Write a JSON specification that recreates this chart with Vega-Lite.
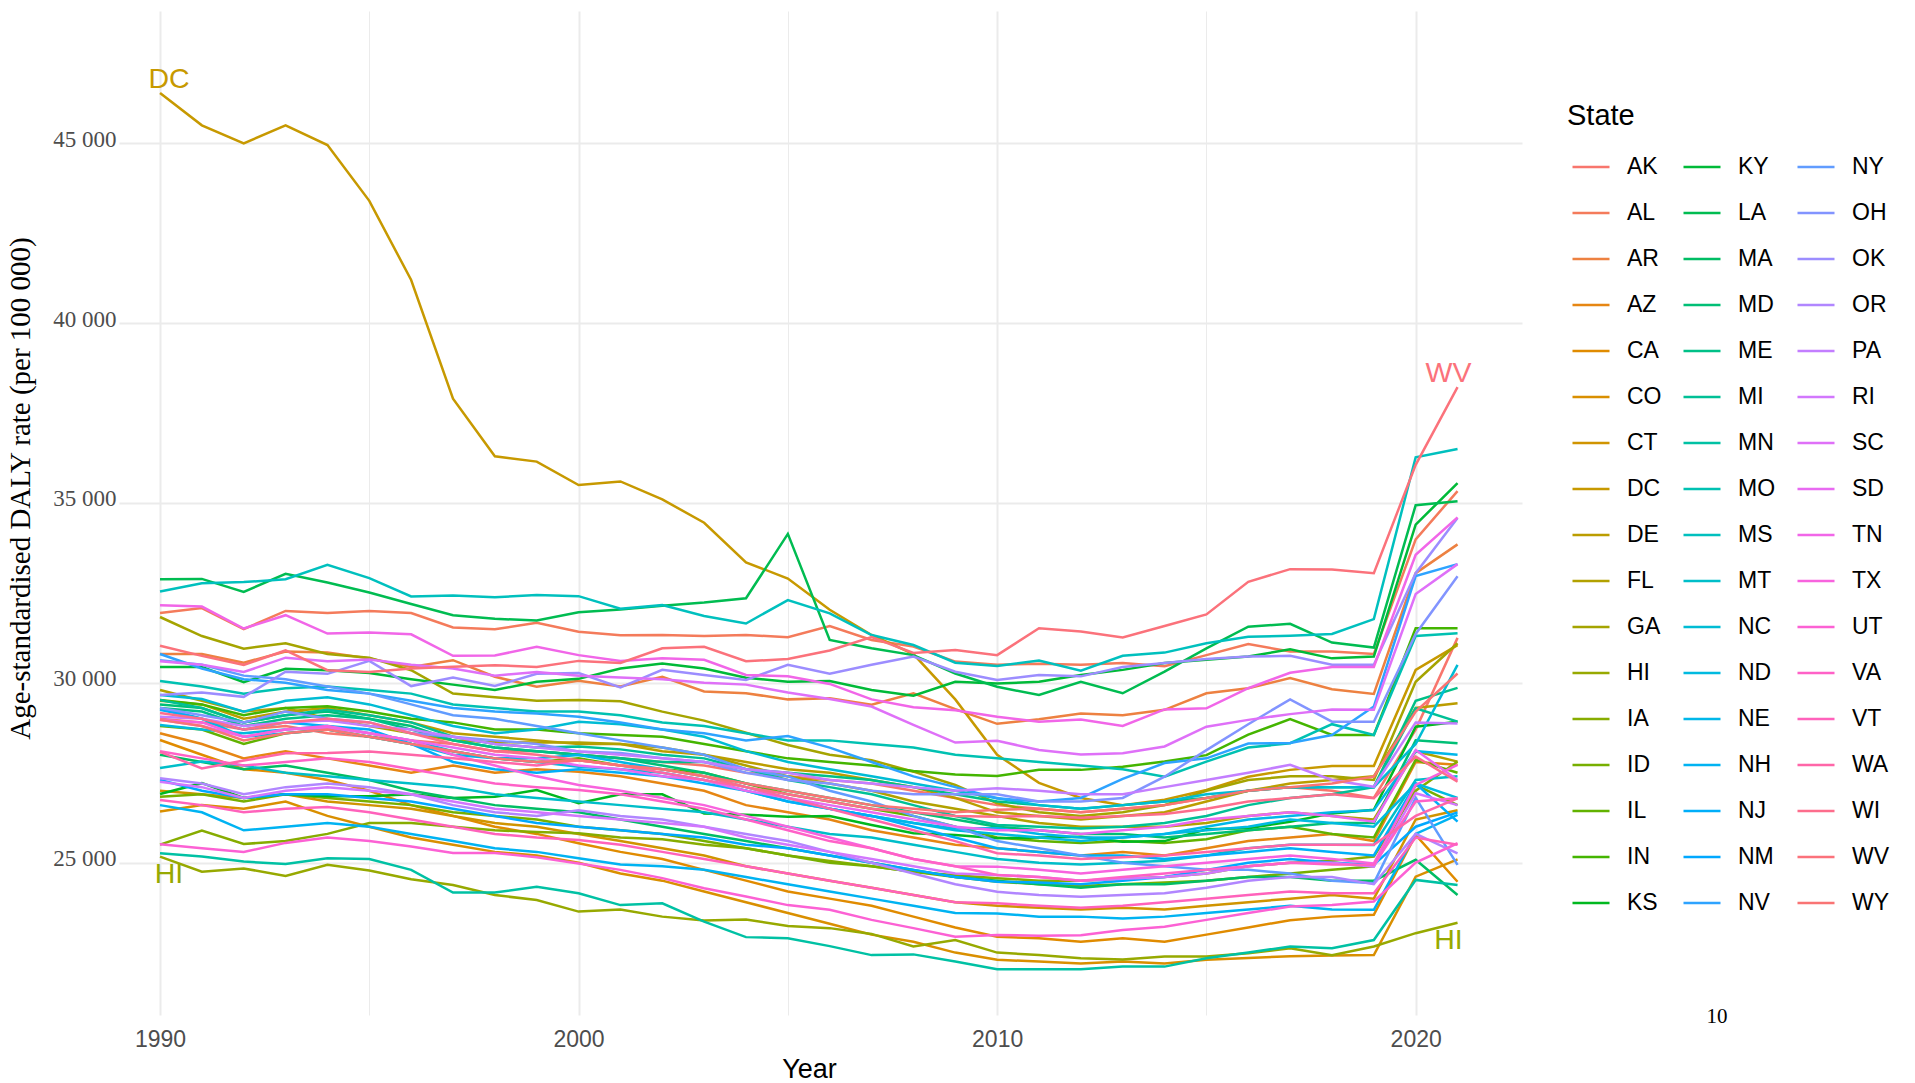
{
"$schema": "https://vega.github.io/schema/vega-lite/v6.json",
"width": 1403, "height": 1004,
"autosize": {"type": "none"},
"padding": {"left": 119, "top": 11, "right": 393, "bottom": 68},
"background": "white",
"config": {"view": {"stroke": null}, "axis": {"domain": false, "ticks": false, "gridColor": "#EBEBEB"}},
"data": {"values": [
{"s":"AK","t":1990,"v":29000},{"s":"AK","t":1991,"v":28900},{"s":"AK","t":1992,"v":28700},{"s":"AK","t":1993,"v":28800},{"s":"AK","t":1994,"v":28600},{"s":"AK","t":1995,"v":28500},{"s":"AK","t":1996,"v":28400},{"s":"AK","t":1997,"v":28300},{"s":"AK","t":1998,"v":28100},{"s":"AK","t":1999,"v":28100},{"s":"AK","t":2000,"v":28000},{"s":"AK","t":2001,"v":27900},{"s":"AK","t":2002,"v":27800},{"s":"AK","t":2003,"v":27700},{"s":"AK","t":2004,"v":27500},{"s":"AK","t":2005,"v":27400},{"s":"AK","t":2006,"v":27300},{"s":"AK","t":2007,"v":27200},{"s":"AK","t":2008,"v":27000},{"s":"AK","t":2009,"v":26800},{"s":"AK","t":2010,"v":26600},{"s":"AK","t":2011,"v":26500},{"s":"AK","t":2012,"v":26400},{"s":"AK","t":2013,"v":26500},{"s":"AK","t":2014,"v":26600},{"s":"AK","t":2015,"v":26800},{"s":"AK","t":2016,"v":27000},{"s":"AK","t":2017,"v":27100},{"s":"AK","t":2018,"v":27000},{"s":"AK","t":2019,"v":26800},{"s":"AK","t":2020,"v":28700},{"s":"AK","t":2021,"v":31250},
{"s":"AL","t":1990,"v":31940},{"s":"AL","t":1991,"v":32080},{"s":"AL","t":1992,"v":31490},{"s":"AL","t":1993,"v":32000},{"s":"AL","t":1994,"v":31940},{"s":"AL","t":1995,"v":32000},{"s":"AL","t":1996,"v":31940},{"s":"AL","t":1997,"v":31540},{"s":"AL","t":1998,"v":31490},{"s":"AL","t":1999,"v":31670},{"s":"AL","t":2000,"v":31420},{"s":"AL","t":2001,"v":31320},{"s":"AL","t":2002,"v":31330},{"s":"AL","t":2003,"v":31300},{"s":"AL","t":2004,"v":31330},{"s":"AL","t":2005,"v":31270},{"s":"AL","t":2006,"v":31580},{"s":"AL","t":2007,"v":31190},{"s":"AL","t":2008,"v":31010},{"s":"AL","t":2009,"v":30590},{"s":"AL","t":2010,"v":30500},{"s":"AL","t":2011,"v":30530},{"s":"AL","t":2012,"v":30500},{"s":"AL","t":2013,"v":30550},{"s":"AL","t":2014,"v":30460},{"s":"AL","t":2015,"v":30770},{"s":"AL","t":2016,"v":31080},{"s":"AL","t":2017,"v":30870},{"s":"AL","t":2018,"v":30870},{"s":"AL","t":2019,"v":30800},{"s":"AL","t":2020,"v":33990},{"s":"AL","t":2021,"v":35330},
{"s":"AR","t":1990,"v":30800},{"s":"AR","t":1991,"v":30800},{"s":"AR","t":1992,"v":30560},{"s":"AR","t":1993,"v":30870},{"s":"AR","t":1994,"v":30840},{"s":"AR","t":1995,"v":30680},{"s":"AR","t":1996,"v":30440},{"s":"AR","t":1997,"v":30630},{"s":"AR","t":1998,"v":30170},{"s":"AR","t":1999,"v":29890},{"s":"AR","t":2000,"v":30060},{"s":"AR","t":2001,"v":29900},{"s":"AR","t":2002,"v":30170},{"s":"AR","t":2003,"v":29760},{"s":"AR","t":2004,"v":29710},{"s":"AR","t":2005,"v":29540},{"s":"AR","t":2006,"v":29570},{"s":"AR","t":2007,"v":29390},{"s":"AR","t":2008,"v":29710},{"s":"AR","t":2009,"v":29270},{"s":"AR","t":2010,"v":28860},{"s":"AR","t":2011,"v":28990},{"s":"AR","t":2012,"v":29150},{"s":"AR","t":2013,"v":29100},{"s":"AR","t":2014,"v":29250},{"s":"AR","t":2015,"v":29710},{"s":"AR","t":2016,"v":29850},{"s":"AR","t":2017,"v":30130},{"s":"AR","t":2018,"v":29820},{"s":"AR","t":2019,"v":29690},{"s":"AR","t":2020,"v":33050},{"s":"AR","t":2021,"v":33850},
{"s":"AZ","t":1990,"v":28600},{"s":"AZ","t":1991,"v":28300},{"s":"AZ","t":1992,"v":27900},{"s":"AZ","t":1993,"v":28100},{"s":"AZ","t":1994,"v":27900},{"s":"AZ","t":1995,"v":27700},{"s":"AZ","t":1996,"v":27500},{"s":"AZ","t":1997,"v":27700},{"s":"AZ","t":1998,"v":27500},{"s":"AZ","t":1999,"v":27600},{"s":"AZ","t":2000,"v":27530},{"s":"AZ","t":2001,"v":27400},{"s":"AZ","t":2002,"v":27200},{"s":"AZ","t":2003,"v":27000},{"s":"AZ","t":2004,"v":26600},{"s":"AZ","t":2005,"v":26400},{"s":"AZ","t":2006,"v":26200},{"s":"AZ","t":2007,"v":25900},{"s":"AZ","t":2008,"v":25700},{"s":"AZ","t":2009,"v":25500},{"s":"AZ","t":2010,"v":25400},{"s":"AZ","t":2011,"v":25300},{"s":"AZ","t":2012,"v":25200},{"s":"AZ","t":2013,"v":25300},{"s":"AZ","t":2014,"v":25200},{"s":"AZ","t":2015,"v":25400},{"s":"AZ","t":2016,"v":25600},{"s":"AZ","t":2017,"v":25700},{"s":"AZ","t":2018,"v":25800},{"s":"AZ","t":2019,"v":25600},{"s":"AZ","t":2020,"v":27800},{"s":"AZ","t":2021,"v":27720},
{"s":"CA","t":1990,"v":28410},{"s":"CA","t":1991,"v":28000},{"s":"CA","t":1992,"v":27600},{"s":"CA","t":1993,"v":27500},{"s":"CA","t":1994,"v":27300},{"s":"CA","t":1995,"v":27000},{"s":"CA","t":1996,"v":26600},{"s":"CA","t":1997,"v":26300},{"s":"CA","t":1998,"v":26000},{"s":"CA","t":1999,"v":25800},{"s":"CA","t":2000,"v":25540},{"s":"CA","t":2001,"v":25300},{"s":"CA","t":2002,"v":25100},{"s":"CA","t":2003,"v":24800},{"s":"CA","t":2004,"v":24500},{"s":"CA","t":2005,"v":24200},{"s":"CA","t":2006,"v":24000},{"s":"CA","t":2007,"v":23800},{"s":"CA","t":2008,"v":23500},{"s":"CA","t":2009,"v":23200},{"s":"CA","t":2010,"v":22940},{"s":"CA","t":2011,"v":22900},{"s":"CA","t":2012,"v":22800},{"s":"CA","t":2013,"v":22900},{"s":"CA","t":2014,"v":22800},{"s":"CA","t":2015,"v":23000},{"s":"CA","t":2016,"v":23200},{"s":"CA","t":2017,"v":23400},{"s":"CA","t":2018,"v":23500},{"s":"CA","t":2019,"v":23550},{"s":"CA","t":2020,"v":25770},{"s":"CA","t":2021,"v":24470},
{"s":"CO","t":1990,"v":26420},{"s":"CO","t":1991,"v":26600},{"s":"CO","t":1992,"v":26500},{"s":"CO","t":1993,"v":26700},{"s":"CO","t":1994,"v":26300},{"s":"CO","t":1995,"v":26000},{"s":"CO","t":1996,"v":25700},{"s":"CO","t":1997,"v":25500},{"s":"CO","t":1998,"v":25300},{"s":"CO","t":1999,"v":25200},{"s":"CO","t":2000,"v":25000},{"s":"CO","t":2001,"v":24700},{"s":"CO","t":2002,"v":24500},{"s":"CO","t":2003,"v":24200},{"s":"CO","t":2004,"v":23900},{"s":"CO","t":2005,"v":23600},{"s":"CO","t":2006,"v":23300},{"s":"CO","t":2007,"v":23000},{"s":"CO","t":2008,"v":22800},{"s":"CO","t":2009,"v":22500},{"s":"CO","t":2010,"v":22300},{"s":"CO","t":2011,"v":22250},{"s":"CO","t":2012,"v":22200},{"s":"CO","t":2013,"v":22250},{"s":"CO","t":2014,"v":22200},{"s":"CO","t":2015,"v":22300},{"s":"CO","t":2016,"v":22350},{"s":"CO","t":2017,"v":22400},{"s":"CO","t":2018,"v":22420},{"s":"CO","t":2019,"v":22430},{"s":"CO","t":2020,"v":24610},{"s":"CO","t":2021,"v":25090},
{"s":"CT","t":1990,"v":27000},{"s":"CT","t":1991,"v":26900},{"s":"CT","t":1992,"v":26800},{"s":"CT","t":1993,"v":26900},{"s":"CT","t":1994,"v":26700},{"s":"CT","t":1995,"v":26600},{"s":"CT","t":1996,"v":26500},{"s":"CT","t":1997,"v":26300},{"s":"CT","t":1998,"v":26100},{"s":"CT","t":1999,"v":26000},{"s":"CT","t":2000,"v":25800},{"s":"CT","t":2001,"v":25600},{"s":"CT","t":2002,"v":25400},{"s":"CT","t":2003,"v":25200},{"s":"CT","t":2004,"v":24900},{"s":"CT","t":2005,"v":24700},{"s":"CT","t":2006,"v":24500},{"s":"CT","t":2007,"v":24300},{"s":"CT","t":2008,"v":24100},{"s":"CT","t":2009,"v":23900},{"s":"CT","t":2010,"v":23800},{"s":"CT","t":2011,"v":23750},{"s":"CT","t":2012,"v":23700},{"s":"CT","t":2013,"v":23750},{"s":"CT","t":2014,"v":23700},{"s":"CT","t":2015,"v":23800},{"s":"CT","t":2016,"v":23900},{"s":"CT","t":2017,"v":24000},{"s":"CT","t":2018,"v":24100},{"s":"CT","t":2019,"v":24000},{"s":"CT","t":2020,"v":26200},{"s":"CT","t":2021,"v":26460},
{"s":"DC","t":1990,"v":46400},{"s":"DC","t":1991,"v":45500},{"s":"DC","t":1992,"v":45000},{"s":"DC","t":1993,"v":45500},{"s":"DC","t":1994,"v":44950},{"s":"DC","t":1995,"v":43400},{"s":"DC","t":1996,"v":41200},{"s":"DC","t":1997,"v":37900},{"s":"DC","t":1998,"v":36300},{"s":"DC","t":1999,"v":36150},{"s":"DC","t":2000,"v":35500},{"s":"DC","t":2001,"v":35600},{"s":"DC","t":2002,"v":35100},{"s":"DC","t":2003,"v":34450},{"s":"DC","t":2004,"v":33350},{"s":"DC","t":2005,"v":32900},{"s":"DC","t":2006,"v":32030},{"s":"DC","t":2007,"v":31330},{"s":"DC","t":2008,"v":30800},{"s":"DC","t":2009,"v":29540},{"s":"DC","t":2010,"v":28000},{"s":"DC","t":2011,"v":27220},{"s":"DC","t":2012,"v":26800},{"s":"DC","t":2013,"v":26600},{"s":"DC","t":2014,"v":26750},{"s":"DC","t":2015,"v":27020},{"s":"DC","t":2016,"v":27390},{"s":"DC","t":2017,"v":27580},{"s":"DC","t":2018,"v":27690},{"s":"DC","t":2019,"v":27690},{"s":"DC","t":2020,"v":30360},{"s":"DC","t":2021,"v":31050},
{"s":"DE","t":1990,"v":29500},{"s":"DE","t":1991,"v":29400},{"s":"DE","t":1992,"v":29000},{"s":"DE","t":1993,"v":29200},{"s":"DE","t":1994,"v":29300},{"s":"DE","t":1995,"v":29100},{"s":"DE","t":1996,"v":28900},{"s":"DE","t":1997,"v":28600},{"s":"DE","t":1998,"v":28500},{"s":"DE","t":1999,"v":28400},{"s":"DE","t":2000,"v":28300},{"s":"DE","t":2001,"v":28300},{"s":"DE","t":2002,"v":28100},{"s":"DE","t":2003,"v":28000},{"s":"DE","t":2004,"v":27800},{"s":"DE","t":2005,"v":27600},{"s":"DE","t":2006,"v":27500},{"s":"DE","t":2007,"v":27300},{"s":"DE","t":2008,"v":27100},{"s":"DE","t":2009,"v":26800},{"s":"DE","t":2010,"v":26400},{"s":"DE","t":2011,"v":26300},{"s":"DE","t":2012,"v":26200},{"s":"DE","t":2013,"v":26300},{"s":"DE","t":2014,"v":26400},{"s":"DE","t":2015,"v":26700},{"s":"DE","t":2016,"v":27000},{"s":"DE","t":2017,"v":27200},{"s":"DE","t":2018,"v":27300},{"s":"DE","t":2019,"v":27400},{"s":"DE","t":2020,"v":29300},{"s":"DE","t":2021,"v":29430},
{"s":"FL","t":1990,"v":29800},{"s":"FL","t":1991,"v":29500},{"s":"FL","t":1992,"v":29200},{"s":"FL","t":1993,"v":29300},{"s":"FL","t":1994,"v":29000},{"s":"FL","t":1995,"v":28800},{"s":"FL","t":1996,"v":28600},{"s":"FL","t":1997,"v":28400},{"s":"FL","t":1998,"v":28350},{"s":"FL","t":1999,"v":28340},{"s":"FL","t":2000,"v":28340},{"s":"FL","t":2001,"v":28300},{"s":"FL","t":2002,"v":28200},{"s":"FL","t":2003,"v":28000},{"s":"FL","t":2004,"v":27700},{"s":"FL","t":2005,"v":27400},{"s":"FL","t":2006,"v":27200},{"s":"FL","t":2007,"v":27000},{"s":"FL","t":2008,"v":26700},{"s":"FL","t":2009,"v":26500},{"s":"FL","t":2010,"v":26300},{"s":"FL","t":2011,"v":26100},{"s":"FL","t":2012,"v":26000},{"s":"FL","t":2013,"v":26000},{"s":"FL","t":2014,"v":26000},{"s":"FL","t":2015,"v":26100},{"s":"FL","t":2016,"v":26300},{"s":"FL","t":2017,"v":26400},{"s":"FL","t":2018,"v":26300},{"s":"FL","t":2019,"v":26200},{"s":"FL","t":2020,"v":28100},{"s":"FL","t":2021,"v":27810},
{"s":"GA","t":1990,"v":31830},{"s":"GA","t":1991,"v":31300},{"s":"GA","t":1992,"v":30950},{"s":"GA","t":1993,"v":31100},{"s":"GA","t":1994,"v":30800},{"s":"GA","t":1995,"v":30700},{"s":"GA","t":1996,"v":30350},{"s":"GA","t":1997,"v":29700},{"s":"GA","t":1998,"v":29600},{"s":"GA","t":1999,"v":29500},{"s":"GA","t":2000,"v":29520},{"s":"GA","t":2001,"v":29490},{"s":"GA","t":2002,"v":29200},{"s":"GA","t":2003,"v":28950},{"s":"GA","t":2004,"v":28610},{"s":"GA","t":2005,"v":28270},{"s":"GA","t":2006,"v":28000},{"s":"GA","t":2007,"v":27850},{"s":"GA","t":2008,"v":27530},{"s":"GA","t":2009,"v":27160},{"s":"GA","t":2010,"v":26650},{"s":"GA","t":2011,"v":26400},{"s":"GA","t":2012,"v":26300},{"s":"GA","t":2013,"v":26400},{"s":"GA","t":2014,"v":26600},{"s":"GA","t":2015,"v":27000},{"s":"GA","t":2016,"v":27300},{"s":"GA","t":2017,"v":27400},{"s":"GA","t":2018,"v":27400},{"s":"GA","t":2019,"v":27300},{"s":"GA","t":2020,"v":30030},{"s":"GA","t":2021,"v":31100},
{"s":"HI","t":1990,"v":25170},{"s":"HI","t":1991,"v":24750},{"s":"HI","t":1992,"v":24840},{"s":"HI","t":1993,"v":24630},{"s":"HI","t":1994,"v":24940},{"s":"HI","t":1995,"v":24780},{"s":"HI","t":1996,"v":24540},{"s":"HI","t":1997,"v":24380},{"s":"HI","t":1998,"v":24100},{"s":"HI","t":1999,"v":23960},{"s":"HI","t":2000,"v":23640},{"s":"HI","t":2001,"v":23700},{"s":"HI","t":2002,"v":23500},{"s":"HI","t":2003,"v":23390},{"s":"HI","t":2004,"v":23420},{"s":"HI","t":2005,"v":23240},{"s":"HI","t":2006,"v":23180},{"s":"HI","t":2007,"v":23020},{"s":"HI","t":2008,"v":22670},{"s":"HI","t":2009,"v":22850},{"s":"HI","t":2010,"v":22500},{"s":"HI","t":2011,"v":22430},{"s":"HI","t":2012,"v":22340},{"s":"HI","t":2013,"v":22310},{"s":"HI","t":2014,"v":22390},{"s":"HI","t":2015,"v":22390},{"s":"HI","t":2016,"v":22480},{"s":"HI","t":2017,"v":22620},{"s":"HI","t":2018,"v":22430},{"s":"HI","t":2019,"v":22670},{"s":"HI","t":2020,"v":23040},{"s":"HI","t":2021,"v":23330},
{"s":"IA","t":1990,"v":25500},{"s":"IA","t":1991,"v":25890},{"s":"IA","t":1992,"v":25520},{"s":"IA","t":1993,"v":25600},{"s":"IA","t":1994,"v":25800},{"s":"IA","t":1995,"v":26100},{"s":"IA","t":1996,"v":26100},{"s":"IA","t":1997,"v":26000},{"s":"IA","t":1998,"v":25900},{"s":"IA","t":1999,"v":25850},{"s":"IA","t":2000,"v":25820},{"s":"IA","t":2001,"v":25700},{"s":"IA","t":2002,"v":25650},{"s":"IA","t":2003,"v":25500},{"s":"IA","t":2004,"v":25400},{"s":"IA","t":2005,"v":25200},{"s":"IA","t":2006,"v":25050},{"s":"IA","t":2007,"v":24900},{"s":"IA","t":2008,"v":24750},{"s":"IA","t":2009,"v":24650},{"s":"IA","t":2010,"v":24570},{"s":"IA","t":2011,"v":24500},{"s":"IA","t":2012,"v":24500},{"s":"IA","t":2013,"v":24550},{"s":"IA","t":2014,"v":24600},{"s":"IA","t":2015,"v":24700},{"s":"IA","t":2016,"v":24900},{"s":"IA","t":2017,"v":25000},{"s":"IA","t":2018,"v":25050},{"s":"IA","t":2019,"v":25170},{"s":"IA","t":2020,"v":27000},{"s":"IA","t":2021,"v":27810},
{"s":"ID","t":1990,"v":26830},{"s":"ID","t":1991,"v":26900},{"s":"ID","t":1992,"v":26700},{"s":"ID","t":1993,"v":26900},{"s":"ID","t":1994,"v":26800},{"s":"ID","t":1995,"v":26700},{"s":"ID","t":1996,"v":26600},{"s":"ID","t":1997,"v":26400},{"s":"ID","t":1998,"v":26300},{"s":"ID","t":1999,"v":26200},{"s":"ID","t":2000,"v":26000},{"s":"ID","t":2001,"v":25900},{"s":"ID","t":2002,"v":25800},{"s":"ID","t":2003,"v":25600},{"s":"ID","t":2004,"v":25400},{"s":"ID","t":2005,"v":25200},{"s":"ID","t":2006,"v":25000},{"s":"ID","t":2007,"v":24900},{"s":"ID","t":2008,"v":24750},{"s":"ID","t":2009,"v":24600},{"s":"ID","t":2010,"v":24470},{"s":"ID","t":2011,"v":24400},{"s":"ID","t":2012,"v":24350},{"s":"ID","t":2013,"v":24400},{"s":"ID","t":2014,"v":24450},{"s":"ID","t":2015,"v":24500},{"s":"ID","t":2016,"v":24600},{"s":"ID","t":2017,"v":24700},{"s":"ID","t":2018,"v":24800},{"s":"ID","t":2019,"v":24900},{"s":"ID","t":2020,"v":27160},{"s":"ID","t":2021,"v":26600},
{"s":"IL","t":1990,"v":28800},{"s":"IL","t":1991,"v":28700},{"s":"IL","t":1992,"v":28300},{"s":"IL","t":1993,"v":28600},{"s":"IL","t":1994,"v":28700},{"s":"IL","t":1995,"v":28500},{"s":"IL","t":1996,"v":28300},{"s":"IL","t":1997,"v":28100},{"s":"IL","t":1998,"v":27900},{"s":"IL","t":1999,"v":27800},{"s":"IL","t":2000,"v":27900},{"s":"IL","t":2001,"v":27700},{"s":"IL","t":2002,"v":27600},{"s":"IL","t":2003,"v":27500},{"s":"IL","t":2004,"v":27200},{"s":"IL","t":2005,"v":26900},{"s":"IL","t":2006,"v":26700},{"s":"IL","t":2007,"v":26500},{"s":"IL","t":2008,"v":26300},{"s":"IL","t":2009,"v":26000},{"s":"IL","t":2010,"v":25700},{"s":"IL","t":2011,"v":25600},{"s":"IL","t":2012,"v":25550},{"s":"IL","t":2013,"v":25600},{"s":"IL","t":2014,"v":25550},{"s":"IL","t":2015,"v":25650},{"s":"IL","t":2016,"v":25900},{"s":"IL","t":2017,"v":26000},{"s":"IL","t":2018,"v":25800},{"s":"IL","t":2019,"v":25700},{"s":"IL","t":2020,"v":27860},{"s":"IL","t":2021,"v":27500},
{"s":"IN","t":1990,"v":29520},{"s":"IN","t":1991,"v":29400},{"s":"IN","t":1992,"v":29100},{"s":"IN","t":1993,"v":29300},{"s":"IN","t":1994,"v":29350},{"s":"IN","t":1995,"v":29200},{"s":"IN","t":1996,"v":29000},{"s":"IN","t":1997,"v":28900},{"s":"IN","t":1998,"v":28700},{"s":"IN","t":1999,"v":28700},{"s":"IN","t":2000,"v":28600},{"s":"IN","t":2001,"v":28550},{"s":"IN","t":2002,"v":28500},{"s":"IN","t":2003,"v":28300},{"s":"IN","t":2004,"v":28100},{"s":"IN","t":2005,"v":27900},{"s":"IN","t":2006,"v":27800},{"s":"IN","t":2007,"v":27700},{"s":"IN","t":2008,"v":27550},{"s":"IN","t":2009,"v":27450},{"s":"IN","t":2010,"v":27410},{"s":"IN","t":2011,"v":27580},{"s":"IN","t":2012,"v":27580},{"s":"IN","t":2013,"v":27670},{"s":"IN","t":2014,"v":27810},{"s":"IN","t":2015,"v":27990},{"s":"IN","t":2016,"v":28560},{"s":"IN","t":2017,"v":28990},{"s":"IN","t":2018,"v":28550},{"s":"IN","t":2019,"v":28550},{"s":"IN","t":2020,"v":31520},{"s":"IN","t":2021,"v":31520},
{"s":"KS","t":1990,"v":26910},{"s":"KS","t":1991,"v":27210},{"s":"KS","t":1992,"v":26800},{"s":"KS","t":1993,"v":26900},{"s":"KS","t":1994,"v":26850},{"s":"KS","t":1995,"v":26850},{"s":"KS","t":1996,"v":26900},{"s":"KS","t":1997,"v":26800},{"s":"KS","t":1998,"v":26830},{"s":"KS","t":1999,"v":27020},{"s":"KS","t":2000,"v":26650},{"s":"KS","t":2001,"v":26900},{"s":"KS","t":2002,"v":26900},{"s":"KS","t":2003,"v":26370},{"s":"KS","t":2004,"v":26330},{"s":"KS","t":2005,"v":26280},{"s":"KS","t":2006,"v":26300},{"s":"KS","t":2007,"v":26050},{"s":"KS","t":2008,"v":25820},{"s":"KS","t":2009,"v":25770},{"s":"KS","t":2010,"v":25680},{"s":"KS","t":2011,"v":25700},{"s":"KS","t":2012,"v":25720},{"s":"KS","t":2013,"v":25580},{"s":"KS","t":2014,"v":25600},{"s":"KS","t":2015,"v":25930},{"s":"KS","t":2016,"v":25960},{"s":"KS","t":2017,"v":26140},{"s":"KS","t":2018,"v":26370},{"s":"KS","t":2019,"v":26470},{"s":"KS","t":2020,"v":28780},{"s":"KS","t":2021,"v":28920},
{"s":"KY","t":1990,"v":30440},{"s":"KY","t":1991,"v":30440},{"s":"KY","t":1992,"v":30020},{"s":"KY","t":1993,"v":30390},{"s":"KY","t":1994,"v":30350},{"s":"KY","t":1995,"v":30270},{"s":"KY","t":1996,"v":30100},{"s":"KY","t":1997,"v":29950},{"s":"KY","t":1998,"v":29800},{"s":"KY","t":1999,"v":30030},{"s":"KY","t":2000,"v":30110},{"s":"KY","t":2001,"v":30400},{"s":"KY","t":2002,"v":30540},{"s":"KY","t":2003,"v":30400},{"s":"KY","t":2004,"v":30140},{"s":"KY","t":2005,"v":30030},{"s":"KY","t":2006,"v":30050},{"s":"KY","t":2007,"v":29800},{"s":"KY","t":2008,"v":29640},{"s":"KY","t":2009,"v":30030},{"s":"KY","t":2010,"v":29980},{"s":"KY","t":2011,"v":30030},{"s":"KY","t":2012,"v":30220},{"s":"KY","t":2013,"v":30360},{"s":"KY","t":2014,"v":30550},{"s":"KY","t":2015,"v":30640},{"s":"KY","t":2016,"v":30730},{"s":"KY","t":2017,"v":30930},{"s":"KY","t":2018,"v":30680},{"s":"KY","t":2019,"v":30730},{"s":"KY","t":2020,"v":34400},{"s":"KY","t":2021,"v":35550},
{"s":"LA","t":1990,"v":32880},{"s":"LA","t":1991,"v":32890},{"s":"LA","t":1992,"v":32530},{"s":"LA","t":1993,"v":33030},{"s":"LA","t":1994,"v":32790},{"s":"LA","t":1995,"v":32510},{"s":"LA","t":1996,"v":32190},{"s":"LA","t":1997,"v":31880},{"s":"LA","t":1998,"v":31780},{"s":"LA","t":1999,"v":31730},{"s":"LA","t":2000,"v":31960},{"s":"LA","t":2001,"v":32040},{"s":"LA","t":2002,"v":32140},{"s":"LA","t":2003,"v":32230},{"s":"LA","t":2004,"v":32350},{"s":"LA","t":2005,"v":34140},{"s":"LA","t":2006,"v":31190},{"s":"LA","t":2007,"v":30960},{"s":"LA","t":2008,"v":30770},{"s":"LA","t":2009,"v":30260},{"s":"LA","t":2010,"v":29890},{"s":"LA","t":2011,"v":29660},{"s":"LA","t":2012,"v":30030},{"s":"LA","t":2013,"v":29710},{"s":"LA","t":2014,"v":30310},{"s":"LA","t":2015,"v":30960},{"s":"LA","t":2016,"v":31560},{"s":"LA","t":2017,"v":31640},{"s":"LA","t":2018,"v":31120},{"s":"LA","t":2019,"v":30980},{"s":"LA","t":2020,"v":34940},{"s":"LA","t":2021,"v":35050},
{"s":"MA","t":1990,"v":28000},{"s":"MA","t":1991,"v":27800},{"s":"MA","t":1992,"v":27600},{"s":"MA","t":1993,"v":27700},{"s":"MA","t":1994,"v":27500},{"s":"MA","t":1995,"v":27300},{"s":"MA","t":1996,"v":27000},{"s":"MA","t":1997,"v":26800},{"s":"MA","t":1998,"v":26600},{"s":"MA","t":1999,"v":26500},{"s":"MA","t":2000,"v":26400},{"s":"MA","t":2001,"v":26200},{"s":"MA","t":2002,"v":26000},{"s":"MA","t":2003,"v":25800},{"s":"MA","t":2004,"v":25600},{"s":"MA","t":2005,"v":25400},{"s":"MA","t":2006,"v":25200},{"s":"MA","t":2007,"v":25000},{"s":"MA","t":2008,"v":24800},{"s":"MA","t":2009,"v":24600},{"s":"MA","t":2010,"v":24500},{"s":"MA","t":2011,"v":24400},{"s":"MA","t":2012,"v":24300},{"s":"MA","t":2013,"v":24400},{"s":"MA","t":2014,"v":24400},{"s":"MA","t":2015,"v":24500},{"s":"MA","t":2016,"v":24600},{"s":"MA","t":2017,"v":24600},{"s":"MA","t":2018,"v":24500},{"s":"MA","t":2019,"v":24500},{"s":"MA","t":2020,"v":25080},{"s":"MA","t":2021,"v":24100},
{"s":"MD","t":1990,"v":29400},{"s":"MD","t":1991,"v":29300},{"s":"MD","t":1992,"v":28900},{"s":"MD","t":1993,"v":29100},{"s":"MD","t":1994,"v":29200},{"s":"MD","t":1995,"v":29000},{"s":"MD","t":1996,"v":28800},{"s":"MD","t":1997,"v":28400},{"s":"MD","t":1998,"v":28200},{"s":"MD","t":1999,"v":28100},{"s":"MD","t":2000,"v":28000},{"s":"MD","t":2001,"v":27900},{"s":"MD","t":2002,"v":27700},{"s":"MD","t":2003,"v":27500},{"s":"MD","t":2004,"v":27200},{"s":"MD","t":2005,"v":27000},{"s":"MD","t":2006,"v":26800},{"s":"MD","t":2007,"v":26600},{"s":"MD","t":2008,"v":26400},{"s":"MD","t":2009,"v":26200},{"s":"MD","t":2010,"v":26000},{"s":"MD","t":2011,"v":25900},{"s":"MD","t":2012,"v":25800},{"s":"MD","t":2013,"v":25800},{"s":"MD","t":2014,"v":25700},{"s":"MD","t":2015,"v":25800},{"s":"MD","t":2016,"v":25900},{"s":"MD","t":2017,"v":26000},{"s":"MD","t":2018,"v":26100},{"s":"MD","t":2019,"v":26100},{"s":"MD","t":2020,"v":28400},{"s":"MD","t":2021,"v":28320},
{"s":"ME","t":1990,"v":29300},{"s":"ME","t":1991,"v":29200},{"s":"ME","t":1992,"v":28800},{"s":"ME","t":1993,"v":29000},{"s":"ME","t":1994,"v":29100},{"s":"ME","t":1995,"v":29000},{"s":"ME","t":1996,"v":28700},{"s":"ME","t":1997,"v":28400},{"s":"ME","t":1998,"v":28200},{"s":"ME","t":1999,"v":28100},{"s":"ME","t":2000,"v":28000},{"s":"ME","t":2001,"v":27900},{"s":"ME","t":2002,"v":27800},{"s":"ME","t":2003,"v":27800},{"s":"ME","t":2004,"v":27600},{"s":"ME","t":2005,"v":27500},{"s":"ME","t":2006,"v":27400},{"s":"ME","t":2007,"v":27300},{"s":"ME","t":2008,"v":27100},{"s":"ME","t":2009,"v":26900},{"s":"ME","t":2010,"v":26700},{"s":"ME","t":2011,"v":26600},{"s":"ME","t":2012,"v":26500},{"s":"ME","t":2013,"v":26600},{"s":"ME","t":2014,"v":26700},{"s":"ME","t":2015,"v":26800},{"s":"ME","t":2016,"v":27000},{"s":"ME","t":2017,"v":27100},{"s":"ME","t":2018,"v":27100},{"s":"ME","t":2019,"v":27100},{"s":"ME","t":2020,"v":29500},{"s":"ME","t":2021,"v":29860},
{"s":"MI","t":1990,"v":29520},{"s":"MI","t":1991,"v":29300},{"s":"MI","t":1992,"v":28900},{"s":"MI","t":1993,"v":29100},{"s":"MI","t":1994,"v":29250},{"s":"MI","t":1995,"v":29100},{"s":"MI","t":1996,"v":28900},{"s":"MI","t":1997,"v":28500},{"s":"MI","t":1998,"v":28300},{"s":"MI","t":1999,"v":28200},{"s":"MI","t":2000,"v":28230},{"s":"MI","t":2001,"v":28150},{"s":"MI","t":2002,"v":28000},{"s":"MI","t":2003,"v":27900},{"s":"MI","t":2004,"v":27600},{"s":"MI","t":2005,"v":27300},{"s":"MI","t":2006,"v":27100},{"s":"MI","t":2007,"v":26900},{"s":"MI","t":2008,"v":26600},{"s":"MI","t":2009,"v":26300},{"s":"MI","t":2010,"v":26050},{"s":"MI","t":2011,"v":26000},{"s":"MI","t":2012,"v":25950},{"s":"MI","t":2013,"v":26000},{"s":"MI","t":2014,"v":26100},{"s":"MI","t":2015,"v":26300},{"s":"MI","t":2016,"v":26600},{"s":"MI","t":2017,"v":26800},{"s":"MI","t":2018,"v":26900},{"s":"MI","t":2019,"v":27100},{"s":"MI","t":2020,"v":29290},{"s":"MI","t":2021,"v":28920},
{"s":"MN","t":1990,"v":25260},{"s":"MN","t":1991,"v":25170},{"s":"MN","t":1992,"v":25030},{"s":"MN","t":1993,"v":24960},{"s":"MN","t":1994,"v":25120},{"s":"MN","t":1995,"v":25100},{"s":"MN","t":1996,"v":24800},{"s":"MN","t":1997,"v":24170},{"s":"MN","t":1998,"v":24170},{"s":"MN","t":1999,"v":24330},{"s":"MN","t":2000,"v":24150},{"s":"MN","t":2001,"v":23820},{"s":"MN","t":2002,"v":23870},{"s":"MN","t":2003,"v":23360},{"s":"MN","t":2004,"v":22930},{"s":"MN","t":2005,"v":22900},{"s":"MN","t":2006,"v":22680},{"s":"MN","t":2007,"v":22430},{"s":"MN","t":2008,"v":22450},{"s":"MN","t":2009,"v":22250},{"s":"MN","t":2010,"v":22040},{"s":"MN","t":2011,"v":22040},{"s":"MN","t":2012,"v":22040},{"s":"MN","t":2013,"v":22110},{"s":"MN","t":2014,"v":22110},{"s":"MN","t":2015,"v":22340},{"s":"MN","t":2016,"v":22500},{"s":"MN","t":2017,"v":22670},{"s":"MN","t":2018,"v":22620},{"s":"MN","t":2019,"v":22850},{"s":"MN","t":2020,"v":24520},{"s":"MN","t":2021,"v":24380},
{"s":"MO","t":1990,"v":30050},{"s":"MO","t":1991,"v":29900},{"s":"MO","t":1992,"v":29700},{"s":"MO","t":1993,"v":29850},{"s":"MO","t":1994,"v":29900},{"s":"MO","t":1995,"v":29800},{"s":"MO","t":1996,"v":29700},{"s":"MO","t":1997,"v":29400},{"s":"MO","t":1998,"v":29300},{"s":"MO","t":1999,"v":29200},{"s":"MO","t":2000,"v":29200},{"s":"MO","t":2001,"v":29100},{"s":"MO","t":2002,"v":28900},{"s":"MO","t":2003,"v":28800},{"s":"MO","t":2004,"v":28600},{"s":"MO","t":2005,"v":28400},{"s":"MO","t":2006,"v":28400},{"s":"MO","t":2007,"v":28300},{"s":"MO","t":2008,"v":28200},{"s":"MO","t":2009,"v":28000},{"s":"MO","t":2010,"v":27900},{"s":"MO","t":2011,"v":27800},{"s":"MO","t":2012,"v":27700},{"s":"MO","t":2013,"v":27600},{"s":"MO","t":2014,"v":27390},{"s":"MO","t":2015,"v":27810},{"s":"MO","t":2016,"v":28200},{"s":"MO","t":2017,"v":28320},{"s":"MO","t":2018,"v":28850},{"s":"MO","t":2019,"v":28550},{"s":"MO","t":2020,"v":31300},{"s":"MO","t":2021,"v":31380},
{"s":"MS","t":1990,"v":32540},{"s":"MS","t":1991,"v":32770},{"s":"MS","t":1992,"v":32800},{"s":"MS","t":1993,"v":32880},{"s":"MS","t":1994,"v":33280},{"s":"MS","t":1995,"v":32910},{"s":"MS","t":1996,"v":32400},{"s":"MS","t":1997,"v":32430},{"s":"MS","t":1998,"v":32380},{"s":"MS","t":1999,"v":32440},{"s":"MS","t":2000,"v":32410},{"s":"MS","t":2001,"v":32060},{"s":"MS","t":2002,"v":32160},{"s":"MS","t":2003,"v":31860},{"s":"MS","t":2004,"v":31650},{"s":"MS","t":2005,"v":32300},{"s":"MS","t":2006,"v":31930},{"s":"MS","t":2007,"v":31330},{"s":"MS","t":2008,"v":31050},{"s":"MS","t":2009,"v":30560},{"s":"MS","t":2010,"v":30470},{"s":"MS","t":2011,"v":30620},{"s":"MS","t":2012,"v":30340},{"s":"MS","t":2013,"v":30750},{"s":"MS","t":2014,"v":30840},{"s":"MS","t":2015,"v":31100},{"s":"MS","t":2016,"v":31280},{"s":"MS","t":2017,"v":31310},{"s":"MS","t":2018,"v":31360},{"s":"MS","t":2019,"v":31770},{"s":"MS","t":2020,"v":36270},{"s":"MS","t":2021,"v":36500},
{"s":"MT","t":1990,"v":27630},{"s":"MT","t":1991,"v":27810},{"s":"MT","t":1992,"v":27700},{"s":"MT","t":1993,"v":27500},{"s":"MT","t":1994,"v":27400},{"s":"MT","t":1995,"v":27300},{"s":"MT","t":1996,"v":27200},{"s":"MT","t":1997,"v":27100},{"s":"MT","t":1998,"v":26900},{"s":"MT","t":1999,"v":26800},{"s":"MT","t":2000,"v":26700},{"s":"MT","t":2001,"v":26600},{"s":"MT","t":2002,"v":26500},{"s":"MT","t":2003,"v":26400},{"s":"MT","t":2004,"v":26200},{"s":"MT","t":2005,"v":26000},{"s":"MT","t":2006,"v":25800},{"s":"MT","t":2007,"v":25700},{"s":"MT","t":2008,"v":25500},{"s":"MT","t":2009,"v":25300},{"s":"MT","t":2010,"v":25100},{"s":"MT","t":2011,"v":25000},{"s":"MT","t":2012,"v":24950},{"s":"MT","t":2013,"v":25000},{"s":"MT","t":2014,"v":25050},{"s":"MT","t":2015,"v":25200},{"s":"MT","t":2016,"v":25400},{"s":"MT","t":2017,"v":25500},{"s":"MT","t":2018,"v":25500},{"s":"MT","t":2019,"v":25490},{"s":"MT","t":2020,"v":27300},{"s":"MT","t":2021,"v":27400},
{"s":"NC","t":1990,"v":29660},{"s":"NC","t":1991,"v":29550},{"s":"NC","t":1992,"v":29200},{"s":"NC","t":1993,"v":29500},{"s":"NC","t":1994,"v":29600},{"s":"NC","t":1995,"v":29400},{"s":"NC","t":1996,"v":29100},{"s":"NC","t":1997,"v":28800},{"s":"NC","t":1998,"v":28600},{"s":"NC","t":1999,"v":28700},{"s":"NC","t":2000,"v":28920},{"s":"NC","t":2001,"v":28850},{"s":"NC","t":2002,"v":28700},{"s":"NC","t":2003,"v":28500},{"s":"NC","t":2004,"v":28100},{"s":"NC","t":2005,"v":27800},{"s":"NC","t":2006,"v":27600},{"s":"NC","t":2007,"v":27400},{"s":"NC","t":2008,"v":27200},{"s":"NC","t":2009,"v":27000},{"s":"NC","t":2010,"v":26790},{"s":"NC","t":2011,"v":26600},{"s":"NC","t":2012,"v":26500},{"s":"NC","t":2013,"v":26600},{"s":"NC","t":2014,"v":26700},{"s":"NC","t":2015,"v":26900},{"s":"NC","t":2016,"v":27000},{"s":"NC","t":2017,"v":27100},{"s":"NC","t":2018,"v":27100},{"s":"NC","t":2019,"v":27100},{"s":"NC","t":2020,"v":28300},{"s":"NC","t":2021,"v":30500},
{"s":"ND","t":1990,"v":28830},{"s":"ND","t":1991,"v":28700},{"s":"ND","t":1992,"v":28600},{"s":"ND","t":1993,"v":28700},{"s":"ND","t":1994,"v":28800},{"s":"ND","t":1995,"v":28600},{"s":"ND","t":1996,"v":28400},{"s":"ND","t":1997,"v":28100},{"s":"ND","t":1998,"v":27900},{"s":"ND","t":1999,"v":27800},{"s":"ND","t":2000,"v":27670},{"s":"ND","t":2001,"v":27600},{"s":"ND","t":2002,"v":27500},{"s":"ND","t":2003,"v":27300},{"s":"ND","t":2004,"v":27000},{"s":"ND","t":2005,"v":26700},{"s":"ND","t":2006,"v":26500},{"s":"ND","t":2007,"v":26300},{"s":"ND","t":2008,"v":26100},{"s":"ND","t":2009,"v":25900},{"s":"ND","t":2010,"v":25800},{"s":"ND","t":2011,"v":25700},{"s":"ND","t":2012,"v":25600},{"s":"ND","t":2013,"v":25700},{"s":"ND","t":2014,"v":25800},{"s":"ND","t":2015,"v":25900},{"s":"ND","t":2016,"v":26000},{"s":"ND","t":2017,"v":26200},{"s":"ND","t":2018,"v":26100},{"s":"ND","t":2019,"v":26000},{"s":"ND","t":2020,"v":27200},{"s":"ND","t":2021,"v":26800},
{"s":"NE","t":1990,"v":29300},{"s":"NE","t":1991,"v":29000},{"s":"NE","t":1992,"v":28500},{"s":"NE","t":1993,"v":28600},{"s":"NE","t":1994,"v":28700},{"s":"NE","t":1995,"v":28500},{"s":"NE","t":1996,"v":28300},{"s":"NE","t":1997,"v":28000},{"s":"NE","t":1998,"v":27900},{"s":"NE","t":1999,"v":27900},{"s":"NE","t":2000,"v":27990},{"s":"NE","t":2001,"v":27800},{"s":"NE","t":2002,"v":27600},{"s":"NE","t":2003,"v":27400},{"s":"NE","t":2004,"v":27100},{"s":"NE","t":2005,"v":26800},{"s":"NE","t":2006,"v":26500},{"s":"NE","t":2007,"v":26300},{"s":"NE","t":2008,"v":26100},{"s":"NE","t":2009,"v":25950},{"s":"NE","t":2010,"v":25960},{"s":"NE","t":2011,"v":25800},{"s":"NE","t":2012,"v":25700},{"s":"NE","t":2013,"v":25700},{"s":"NE","t":2014,"v":25800},{"s":"NE","t":2015,"v":26000},{"s":"NE","t":2016,"v":26200},{"s":"NE","t":2017,"v":26300},{"s":"NE","t":2018,"v":26400},{"s":"NE","t":2019,"v":26460},{"s":"NE","t":2020,"v":28100},{"s":"NE","t":2021,"v":28000},
{"s":"NH","t":1990,"v":26600},{"s":"NH","t":1991,"v":26400},{"s":"NH","t":1992,"v":25900},{"s":"NH","t":1993,"v":26000},{"s":"NH","t":1994,"v":26100},{"s":"NH","t":1995,"v":26000},{"s":"NH","t":1996,"v":25800},{"s":"NH","t":1997,"v":25600},{"s":"NH","t":1998,"v":25400},{"s":"NH","t":1999,"v":25300},{"s":"NH","t":2000,"v":25120},{"s":"NH","t":2001,"v":24950},{"s":"NH","t":2002,"v":24900},{"s":"NH","t":2003,"v":24800},{"s":"NH","t":2004,"v":24600},{"s":"NH","t":2005,"v":24400},{"s":"NH","t":2006,"v":24200},{"s":"NH","t":2007,"v":24000},{"s":"NH","t":2008,"v":23800},{"s":"NH","t":2009,"v":23600},{"s":"NH","t":2010,"v":23590},{"s":"NH","t":2011,"v":23500},{"s":"NH","t":2012,"v":23500},{"s":"NH","t":2013,"v":23450},{"s":"NH","t":2014,"v":23500},{"s":"NH","t":2015,"v":23600},{"s":"NH","t":2016,"v":23700},{"s":"NH","t":2017,"v":23800},{"s":"NH","t":2018,"v":23700},{"s":"NH","t":2019,"v":23690},{"s":"NH","t":2020,"v":25800},{"s":"NH","t":2021,"v":26330},
{"s":"NJ","t":1990,"v":29250},{"s":"NJ","t":1991,"v":29000},{"s":"NJ","t":1992,"v":28700},{"s":"NJ","t":1993,"v":28900},{"s":"NJ","t":1994,"v":28800},{"s":"NJ","t":1995,"v":28700},{"s":"NJ","t":1996,"v":28300},{"s":"NJ","t":1997,"v":27800},{"s":"NJ","t":1998,"v":27600},{"s":"NJ","t":1999,"v":27500},{"s":"NJ","t":2000,"v":27600},{"s":"NJ","t":2001,"v":27500},{"s":"NJ","t":2002,"v":27400},{"s":"NJ","t":2003,"v":27200},{"s":"NJ","t":2004,"v":27000},{"s":"NJ","t":2005,"v":26700},{"s":"NJ","t":2006,"v":26500},{"s":"NJ","t":2007,"v":26300},{"s":"NJ","t":2008,"v":26000},{"s":"NJ","t":2009,"v":25700},{"s":"NJ","t":2010,"v":25400},{"s":"NJ","t":2011,"v":25300},{"s":"NJ","t":2012,"v":25200},{"s":"NJ","t":2013,"v":25200},{"s":"NJ","t":2014,"v":25100},{"s":"NJ","t":2015,"v":25200},{"s":"NJ","t":2016,"v":25300},{"s":"NJ","t":2017,"v":25400},{"s":"NJ","t":2018,"v":25300},{"s":"NJ","t":2019,"v":25200},{"s":"NJ","t":2020,"v":27200},{"s":"NJ","t":2021,"v":26140},
{"s":"NM","t":1990,"v":27300},{"s":"NM","t":1991,"v":27000},{"s":"NM","t":1992,"v":26800},{"s":"NM","t":1993,"v":26900},{"s":"NM","t":1994,"v":26900},{"s":"NM","t":1995,"v":26800},{"s":"NM","t":1996,"v":26700},{"s":"NM","t":1997,"v":26500},{"s":"NM","t":1998,"v":26300},{"s":"NM","t":1999,"v":26100},{"s":"NM","t":2000,"v":26000},{"s":"NM","t":2001,"v":25900},{"s":"NM","t":2002,"v":25800},{"s":"NM","t":2003,"v":25700},{"s":"NM","t":2004,"v":25500},{"s":"NM","t":2005,"v":25400},{"s":"NM","t":2006,"v":25200},{"s":"NM","t":2007,"v":25000},{"s":"NM","t":2008,"v":24800},{"s":"NM","t":2009,"v":24600},{"s":"NM","t":2010,"v":24470},{"s":"NM","t":2011,"v":24450},{"s":"NM","t":2012,"v":24400},{"s":"NM","t":2013,"v":24500},{"s":"NM","t":2014,"v":24600},{"s":"NM","t":2015,"v":24800},{"s":"NM","t":2016,"v":25000},{"s":"NM","t":2017,"v":25100},{"s":"NM","t":2018,"v":25000},{"s":"NM","t":2019,"v":24940},{"s":"NM","t":2020,"v":26000},{"s":"NM","t":2021,"v":26400},
{"s":"NV","t":1990,"v":30800},{"s":"NV","t":1991,"v":30400},{"s":"NV","t":1992,"v":30100},{"s":"NV","t":1993,"v":30000},{"s":"NV","t":1994,"v":29800},{"s":"NV","t":1995,"v":29700},{"s":"NV","t":1996,"v":29500},{"s":"NV","t":1997,"v":29300},{"s":"NV","t":1998,"v":29200},{"s":"NV","t":1999,"v":29150},{"s":"NV","t":2000,"v":29060},{"s":"NV","t":2001,"v":28900},{"s":"NV","t":2002,"v":28700},{"s":"NV","t":2003,"v":28600},{"s":"NV","t":2004,"v":28400},{"s":"NV","t":2005,"v":28520},{"s":"NV","t":2006,"v":28200},{"s":"NV","t":2007,"v":27800},{"s":"NV","t":2008,"v":27400},{"s":"NV","t":2009,"v":27100},{"s":"NV","t":2010,"v":26790},{"s":"NV","t":2011,"v":26700},{"s":"NV","t":2012,"v":26800},{"s":"NV","t":2013,"v":27330},{"s":"NV","t":2014,"v":27770},{"s":"NV","t":2015,"v":27900},{"s":"NV","t":2016,"v":28310},{"s":"NV","t":2017,"v":28330},{"s":"NV","t":2018,"v":28550},{"s":"NV","t":2019,"v":29340},{"s":"NV","t":2020,"v":32970},{"s":"NV","t":2021,"v":33300},
{"s":"NY","t":1990,"v":30630},{"s":"NY","t":1991,"v":30500},{"s":"NY","t":1992,"v":30200},{"s":"NY","t":1993,"v":30100},{"s":"NY","t":1994,"v":29900},{"s":"NY","t":1995,"v":29700},{"s":"NY","t":1996,"v":29400},{"s":"NY","t":1997,"v":29100},{"s":"NY","t":1998,"v":29000},{"s":"NY","t":1999,"v":28800},{"s":"NY","t":2000,"v":28600},{"s":"NY","t":2001,"v":28400},{"s":"NY","t":2002,"v":28200},{"s":"NY","t":2003,"v":28000},{"s":"NY","t":2004,"v":27600},{"s":"NY","t":2005,"v":27400},{"s":"NY","t":2006,"v":27000},{"s":"NY","t":2007,"v":26700},{"s":"NY","t":2008,"v":26300},{"s":"NY","t":2009,"v":26000},{"s":"NY","t":2010,"v":25600},{"s":"NY","t":2011,"v":25400},{"s":"NY","t":2012,"v":25200},{"s":"NY","t":2013,"v":25000},{"s":"NY","t":2014,"v":24900},{"s":"NY","t":2015,"v":24800},{"s":"NY","t":2016,"v":24800},{"s":"NY","t":2017,"v":24700},{"s":"NY","t":2018,"v":24500},{"s":"NY","t":2019,"v":24430},{"s":"NY","t":2020,"v":26800},{"s":"NY","t":2021,"v":24940},
{"s":"OH","t":1990,"v":29300},{"s":"OH","t":1991,"v":29100},{"s":"OH","t":1992,"v":28900},{"s":"OH","t":1993,"v":29200},{"s":"OH","t":1994,"v":29000},{"s":"OH","t":1995,"v":28900},{"s":"OH","t":1996,"v":28600},{"s":"OH","t":1997,"v":28500},{"s":"OH","t":1998,"v":28400},{"s":"OH","t":1999,"v":28300},{"s":"OH","t":2000,"v":28090},{"s":"OH","t":2001,"v":28050},{"s":"OH","t":2002,"v":27900},{"s":"OH","t":2003,"v":27800},{"s":"OH","t":2004,"v":27500},{"s":"OH","t":2005,"v":27300},{"s":"OH","t":2006,"v":27200},{"s":"OH","t":2007,"v":27000},{"s":"OH","t":2008,"v":26900},{"s":"OH","t":2009,"v":26900},{"s":"OH","t":2010,"v":26900},{"s":"OH","t":2011,"v":26700},{"s":"OH","t":2012,"v":26700},{"s":"OH","t":2013,"v":26800},{"s":"OH","t":2014,"v":27390},{"s":"OH","t":2015,"v":28130},{"s":"OH","t":2016,"v":28850},{"s":"OH","t":2017,"v":29540},{"s":"OH","t":2018,"v":28920},{"s":"OH","t":2019,"v":28920},{"s":"OH","t":2020,"v":31360},{"s":"OH","t":2021,"v":32960},
{"s":"OK","t":1990,"v":29660},{"s":"OK","t":1991,"v":29730},{"s":"OK","t":1992,"v":29610},{"s":"OK","t":1993,"v":30310},{"s":"OK","t":1994,"v":30250},{"s":"OK","t":1995,"v":30610},{"s":"OK","t":1996,"v":29910},{"s":"OK","t":1997,"v":30150},{"s":"OK","t":1998,"v":29910},{"s":"OK","t":1999,"v":30250},{"s":"OK","t":2000,"v":30270},{"s":"OK","t":2001,"v":29870},{"s":"OK","t":2002,"v":30360},{"s":"OK","t":2003,"v":30220},{"s":"OK","t":2004,"v":30080},{"s":"OK","t":2005,"v":30500},{"s":"OK","t":2006,"v":30250},{"s":"OK","t":2007,"v":30500},{"s":"OK","t":2008,"v":30730},{"s":"OK","t":2009,"v":30310},{"s":"OK","t":2010,"v":30080},{"s":"OK","t":2011,"v":30220},{"s":"OK","t":2012,"v":30180},{"s":"OK","t":2013,"v":30440},{"s":"OK","t":2014,"v":30550},{"s":"OK","t":2015,"v":30660},{"s":"OK","t":2016,"v":30730},{"s":"OK","t":2017,"v":30750},{"s":"OK","t":2018,"v":30500},{"s":"OK","t":2019,"v":30500},{"s":"OK","t":2020,"v":33050},{"s":"OK","t":2021,"v":34580},
{"s":"OR","t":1990,"v":27350},{"s":"OR","t":1991,"v":27200},{"s":"OR","t":1992,"v":26900},{"s":"OR","t":1993,"v":27100},{"s":"OR","t":1994,"v":27200},{"s":"OR","t":1995,"v":27100},{"s":"OR","t":1996,"v":26900},{"s":"OR","t":1997,"v":26600},{"s":"OR","t":1998,"v":26400},{"s":"OR","t":1999,"v":26300},{"s":"OR","t":2000,"v":26460},{"s":"OR","t":2001,"v":26300},{"s":"OR","t":2002,"v":26200},{"s":"OR","t":2003,"v":26000},{"s":"OR","t":2004,"v":25800},{"s":"OR","t":2005,"v":25600},{"s":"OR","t":2006,"v":25300},{"s":"OR","t":2007,"v":25000},{"s":"OR","t":2008,"v":24700},{"s":"OR","t":2009,"v":24400},{"s":"OR","t":2010,"v":24190},{"s":"OR","t":2011,"v":24100},{"s":"OR","t":2012,"v":24050},{"s":"OR","t":2013,"v":24100},{"s":"OR","t":2014,"v":24150},{"s":"OR","t":2015,"v":24300},{"s":"OR","t":2016,"v":24500},{"s":"OR","t":2017,"v":24600},{"s":"OR","t":2018,"v":24600},{"s":"OR","t":2019,"v":24400},{"s":"OR","t":2020,"v":25800},{"s":"OR","t":2021,"v":25260},
{"s":"PA","t":1990,"v":29060},{"s":"PA","t":1991,"v":29000},{"s":"PA","t":1992,"v":28800},{"s":"PA","t":1993,"v":28900},{"s":"PA","t":1994,"v":28950},{"s":"PA","t":1995,"v":28800},{"s":"PA","t":1996,"v":28700},{"s":"PA","t":1997,"v":28500},{"s":"PA","t":1998,"v":28300},{"s":"PA","t":1999,"v":28200},{"s":"PA","t":2000,"v":28090},{"s":"PA","t":2001,"v":28000},{"s":"PA","t":2002,"v":27900},{"s":"PA","t":2003,"v":27800},{"s":"PA","t":2004,"v":27600},{"s":"PA","t":2005,"v":27500},{"s":"PA","t":2006,"v":27300},{"s":"PA","t":2007,"v":27200},{"s":"PA","t":2008,"v":27100},{"s":"PA","t":2009,"v":27000},{"s":"PA","t":2010,"v":27070},{"s":"PA","t":2011,"v":27000},{"s":"PA","t":2012,"v":26900},{"s":"PA","t":2013,"v":26900},{"s":"PA","t":2014,"v":27100},{"s":"PA","t":2015,"v":27300},{"s":"PA","t":2016,"v":27500},{"s":"PA","t":2017,"v":27720},{"s":"PA","t":2018,"v":27300},{"s":"PA","t":2019,"v":27110},{"s":"PA","t":2020,"v":28900},{"s":"PA","t":2021,"v":28870},
{"s":"RI","t":1990,"v":27250},{"s":"RI","t":1991,"v":27100},{"s":"RI","t":1992,"v":26800},{"s":"RI","t":1993,"v":27000},{"s":"RI","t":1994,"v":27100},{"s":"RI","t":1995,"v":27000},{"s":"RI","t":1996,"v":26900},{"s":"RI","t":1997,"v":26700},{"s":"RI","t":1998,"v":26500},{"s":"RI","t":1999,"v":26400},{"s":"RI","t":2000,"v":26300},{"s":"RI","t":2001,"v":26200},{"s":"RI","t":2002,"v":26100},{"s":"RI","t":2003,"v":26000},{"s":"RI","t":2004,"v":25700},{"s":"RI","t":2005,"v":25500},{"s":"RI","t":2006,"v":25300},{"s":"RI","t":2007,"v":25100},{"s":"RI","t":2008,"v":24900},{"s":"RI","t":2009,"v":24700},{"s":"RI","t":2010,"v":24660},{"s":"RI","t":2011,"v":24600},{"s":"RI","t":2012,"v":24500},{"s":"RI","t":2013,"v":24550},{"s":"RI","t":2014,"v":24600},{"s":"RI","t":2015,"v":24700},{"s":"RI","t":2016,"v":24900},{"s":"RI","t":2017,"v":25000},{"s":"RI","t":2018,"v":25000},{"s":"RI","t":2019,"v":24890},{"s":"RI","t":2020,"v":26930},{"s":"RI","t":2021,"v":26600},
{"s":"SC","t":1990,"v":30600},{"s":"SC","t":1991,"v":30500},{"s":"SC","t":1992,"v":30300},{"s":"SC","t":1993,"v":30700},{"s":"SC","t":1994,"v":30600},{"s":"SC","t":1995,"v":30650},{"s":"SC","t":1996,"v":30500},{"s":"SC","t":1997,"v":30400},{"s":"SC","t":1998,"v":30200},{"s":"SC","t":1999,"v":30300},{"s":"SC","t":2000,"v":30200},{"s":"SC","t":2001,"v":30150},{"s":"SC","t":2002,"v":30100},{"s":"SC","t":2003,"v":30000},{"s":"SC","t":2004,"v":29950},{"s":"SC","t":2005,"v":29730},{"s":"SC","t":2006,"v":29550},{"s":"SC","t":2007,"v":29340},{"s":"SC","t":2008,"v":28830},{"s":"SC","t":2009,"v":28340},{"s":"SC","t":2010,"v":28390},{"s":"SC","t":2011,"v":28130},{"s":"SC","t":2012,"v":28010},{"s":"SC","t":2013,"v":28040},{"s":"SC","t":2014,"v":28230},{"s":"SC","t":2015,"v":28780},{"s":"SC","t":2016,"v":28970},{"s":"SC","t":2017,"v":29130},{"s":"SC","t":2018,"v":29260},{"s":"SC","t":2019,"v":29250},{"s":"SC","t":2020,"v":32470},{"s":"SC","t":2021,"v":33300},
{"s":"SD","t":1990,"v":28970},{"s":"SD","t":1991,"v":28800},{"s":"SD","t":1992,"v":28500},{"s":"SD","t":1993,"v":28700},{"s":"SD","t":1994,"v":28750},{"s":"SD","t":1995,"v":28600},{"s":"SD","t":1996,"v":28400},{"s":"SD","t":1997,"v":28200},{"s":"SD","t":1998,"v":28000},{"s":"SD","t":1999,"v":27900},{"s":"SD","t":2000,"v":27700},{"s":"SD","t":2001,"v":27600},{"s":"SD","t":2002,"v":27400},{"s":"SD","t":2003,"v":27300},{"s":"SD","t":2004,"v":27000},{"s":"SD","t":2005,"v":26800},{"s":"SD","t":2006,"v":26600},{"s":"SD","t":2007,"v":26400},{"s":"SD","t":2008,"v":26200},{"s":"SD","t":2009,"v":26000},{"s":"SD","t":2010,"v":25900},{"s":"SD","t":2011,"v":25900},{"s":"SD","t":2012,"v":25800},{"s":"SD","t":2013,"v":25900},{"s":"SD","t":2014,"v":26000},{"s":"SD","t":2015,"v":26200},{"s":"SD","t":2016,"v":26300},{"s":"SD","t":2017,"v":26400},{"s":"SD","t":2018,"v":26300},{"s":"SD","t":2019,"v":26140},{"s":"SD","t":2020,"v":28130},{"s":"SD","t":2021,"v":27300},
{"s":"TN","t":1990,"v":32160},{"s":"TN","t":1991,"v":32120},{"s":"TN","t":1992,"v":31510},{"s":"TN","t":1993,"v":31880},{"s":"TN","t":1994,"v":31370},{"s":"TN","t":1995,"v":31400},{"s":"TN","t":1996,"v":31350},{"s":"TN","t":1997,"v":30750},{"s":"TN","t":1998,"v":30760},{"s":"TN","t":1999,"v":31000},{"s":"TN","t":2000,"v":30770},{"s":"TN","t":2001,"v":30610},{"s":"TN","t":2002,"v":30680},{"s":"TN","t":2003,"v":30640},{"s":"TN","t":2004,"v":30220},{"s":"TN","t":2005,"v":30180},{"s":"TN","t":2006,"v":29970},{"s":"TN","t":2007,"v":29540},{"s":"TN","t":2008,"v":29320},{"s":"TN","t":2009,"v":29240},{"s":"TN","t":2010,"v":29060},{"s":"TN","t":2011,"v":28920},{"s":"TN","t":2012,"v":28980},{"s":"TN","t":2013,"v":28800},{"s":"TN","t":2014,"v":29260},{"s":"TN","t":2015,"v":29290},{"s":"TN","t":2016,"v":29850},{"s":"TN","t":2017,"v":30280},{"s":"TN","t":2018,"v":30440},{"s":"TN","t":2019,"v":30440},{"s":"TN","t":2020,"v":33560},{"s":"TN","t":2021,"v":34600},
{"s":"TX","t":1990,"v":28970},{"s":"TX","t":1991,"v":28900},{"s":"TX","t":1992,"v":28500},{"s":"TX","t":1993,"v":28700},{"s":"TX","t":1994,"v":28800},{"s":"TX","t":1995,"v":28600},{"s":"TX","t":1996,"v":28400},{"s":"TX","t":1997,"v":28000},{"s":"TX","t":1998,"v":27700},{"s":"TX","t":1999,"v":27400},{"s":"TX","t":2000,"v":27160},{"s":"TX","t":2001,"v":27000},{"s":"TX","t":2002,"v":26800},{"s":"TX","t":2003,"v":26600},{"s":"TX","t":2004,"v":26300},{"s":"TX","t":2005,"v":26000},{"s":"TX","t":2006,"v":25700},{"s":"TX","t":2007,"v":25400},{"s":"TX","t":2008,"v":25100},{"s":"TX","t":2009,"v":24900},{"s":"TX","t":2010,"v":24890},{"s":"TX","t":2011,"v":24800},{"s":"TX","t":2012,"v":24700},{"s":"TX","t":2013,"v":24800},{"s":"TX","t":2014,"v":24900},{"s":"TX","t":2015,"v":25000},{"s":"TX","t":2016,"v":25100},{"s":"TX","t":2017,"v":25200},{"s":"TX","t":2018,"v":25100},{"s":"TX","t":2019,"v":24980},{"s":"TX","t":2020,"v":27160},{"s":"TX","t":2021,"v":27720},
{"s":"UT","t":1990,"v":25510},{"s":"UT","t":1991,"v":25400},{"s":"UT","t":1992,"v":25300},{"s":"UT","t":1993,"v":25550},{"s":"UT","t":1994,"v":25700},{"s":"UT","t":1995,"v":25600},{"s":"UT","t":1996,"v":25450},{"s":"UT","t":1997,"v":25270},{"s":"UT","t":1998,"v":25270},{"s":"UT","t":1999,"v":25150},{"s":"UT","t":2000,"v":24980},{"s":"UT","t":2001,"v":24800},{"s":"UT","t":2002,"v":24570},{"s":"UT","t":2003,"v":24290},{"s":"UT","t":2004,"v":24060},{"s":"UT","t":2005,"v":23820},{"s":"UT","t":2006,"v":23690},{"s":"UT","t":2007,"v":23410},{"s":"UT","t":2008,"v":23180},{"s":"UT","t":2009,"v":22940},{"s":"UT","t":2010,"v":22990},{"s":"UT","t":2011,"v":22970},{"s":"UT","t":2012,"v":22980},{"s":"UT","t":2013,"v":23130},{"s":"UT","t":2014,"v":23220},{"s":"UT","t":2015,"v":23410},{"s":"UT","t":2016,"v":23600},{"s":"UT","t":2017,"v":23780},{"s":"UT","t":2018,"v":23820},{"s":"UT","t":2019,"v":23920},{"s":"UT","t":2020,"v":25000},{"s":"UT","t":2021,"v":25540},
{"s":"VA","t":1990,"v":28100},{"s":"VA","t":1991,"v":27900},{"s":"VA","t":1992,"v":27700},{"s":"VA","t":1993,"v":27800},{"s":"VA","t":1994,"v":27900},{"s":"VA","t":1995,"v":27800},{"s":"VA","t":1996,"v":27600},{"s":"VA","t":1997,"v":27400},{"s":"VA","t":1998,"v":27200},{"s":"VA","t":1999,"v":27100},{"s":"VA","t":2000,"v":27020},{"s":"VA","t":2001,"v":26900},{"s":"VA","t":2002,"v":26700},{"s":"VA","t":2003,"v":26500},{"s":"VA","t":2004,"v":26200},{"s":"VA","t":2005,"v":25900},{"s":"VA","t":2006,"v":25600},{"s":"VA","t":2007,"v":25400},{"s":"VA","t":2008,"v":25100},{"s":"VA","t":2009,"v":24900},{"s":"VA","t":2010,"v":24660},{"s":"VA","t":2011,"v":24600},{"s":"VA","t":2012,"v":24500},{"s":"VA","t":2013,"v":24600},{"s":"VA","t":2014,"v":24700},{"s":"VA","t":2015,"v":24800},{"s":"VA","t":2016,"v":24900},{"s":"VA","t":2017,"v":25000},{"s":"VA","t":2018,"v":24950},{"s":"VA","t":2019,"v":24940},{"s":"VA","t":2020,"v":26700},{"s":"VA","t":2021,"v":26790},
{"s":"VT","t":1990,"v":26740},{"s":"VT","t":1991,"v":26600},{"s":"VT","t":1992,"v":26400},{"s":"VT","t":1993,"v":26500},{"s":"VT","t":1994,"v":26550},{"s":"VT","t":1995,"v":26400},{"s":"VT","t":1996,"v":26200},{"s":"VT","t":1997,"v":26000},{"s":"VT","t":1998,"v":25800},{"s":"VT","t":1999,"v":25700},{"s":"VT","t":2000,"v":25630},{"s":"VT","t":2001,"v":25500},{"s":"VT","t":2002,"v":25300},{"s":"VT","t":2003,"v":25100},{"s":"VT","t":2004,"v":24900},{"s":"VT","t":2005,"v":24700},{"s":"VT","t":2006,"v":24500},{"s":"VT","t":2007,"v":24300},{"s":"VT","t":2008,"v":24100},{"s":"VT","t":2009,"v":23900},{"s":"VT","t":2010,"v":23870},{"s":"VT","t":2011,"v":23800},{"s":"VT","t":2012,"v":23750},{"s":"VT","t":2013,"v":23800},{"s":"VT","t":2014,"v":23900},{"s":"VT","t":2015,"v":24000},{"s":"VT","t":2016,"v":24100},{"s":"VT","t":2017,"v":24200},{"s":"VT","t":2018,"v":24150},{"s":"VT","t":2019,"v":24150},{"s":"VT","t":2020,"v":25700},{"s":"VT","t":2021,"v":25500},
{"s":"WA","t":1990,"v":28080},{"s":"WA","t":1991,"v":27620},{"s":"WA","t":1992,"v":27840},{"s":"WA","t":1993,"v":28040},{"s":"WA","t":1994,"v":28050},{"s":"WA","t":1995,"v":28090},{"s":"WA","t":1996,"v":28000},{"s":"WA","t":1997,"v":27900},{"s":"WA","t":1998,"v":27800},{"s":"WA","t":1999,"v":27700},{"s":"WA","t":2000,"v":27850},{"s":"WA","t":2001,"v":27700},{"s":"WA","t":2002,"v":27500},{"s":"WA","t":2003,"v":27300},{"s":"WA","t":2004,"v":27100},{"s":"WA","t":2005,"v":26800},{"s":"WA","t":2006,"v":26500},{"s":"WA","t":2007,"v":26200},{"s":"WA","t":2008,"v":25900},{"s":"WA","t":2009,"v":25600},{"s":"WA","t":2010,"v":25260},{"s":"WA","t":2011,"v":25200},{"s":"WA","t":2012,"v":25100},{"s":"WA","t":2013,"v":25150},{"s":"WA","t":2014,"v":25200},{"s":"WA","t":2015,"v":25300},{"s":"WA","t":2016,"v":25400},{"s":"WA","t":2017,"v":25500},{"s":"WA","t":2018,"v":25500},{"s":"WA","t":2019,"v":25500},{"s":"WA","t":2020,"v":26300},{"s":"WA","t":2021,"v":26790},
{"s":"WI","t":1990,"v":29160},{"s":"WI","t":1991,"v":29000},{"s":"WI","t":1992,"v":28700},{"s":"WI","t":1993,"v":28900},{"s":"WI","t":1994,"v":29000},{"s":"WI","t":1995,"v":28900},{"s":"WI","t":1996,"v":28600},{"s":"WI","t":1997,"v":28300},{"s":"WI","t":1998,"v":28100},{"s":"WI","t":1999,"v":28000},{"s":"WI","t":2000,"v":27850},{"s":"WI","t":2001,"v":27700},{"s":"WI","t":2002,"v":27600},{"s":"WI","t":2003,"v":27400},{"s":"WI","t":2004,"v":27100},{"s":"WI","t":2005,"v":26900},{"s":"WI","t":2006,"v":26700},{"s":"WI","t":2007,"v":26500},{"s":"WI","t":2008,"v":26400},{"s":"WI","t":2009,"v":26300},{"s":"WI","t":2010,"v":26280},{"s":"WI","t":2011,"v":26300},{"s":"WI","t":2012,"v":26250},{"s":"WI","t":2013,"v":26300},{"s":"WI","t":2014,"v":26350},{"s":"WI","t":2015,"v":26500},{"s":"WI","t":2016,"v":26700},{"s":"WI","t":2017,"v":26800},{"s":"WI","t":2018,"v":26900},{"s":"WI","t":2019,"v":26790},{"s":"WI","t":2020,"v":27950},{"s":"WI","t":2021,"v":27250},
{"s":"WV","t":1990,"v":31030},{"s":"WV","t":1991,"v":30750},{"s":"WV","t":1992,"v":30500},{"s":"WV","t":1993,"v":30900},{"s":"WV","t":1994,"v":30350},{"s":"WV","t":1995,"v":30300},{"s":"WV","t":1996,"v":30400},{"s":"WV","t":1997,"v":30450},{"s":"WV","t":1998,"v":30490},{"s":"WV","t":1999,"v":30440},{"s":"WV","t":2000,"v":30610},{"s":"WV","t":2001,"v":30550},{"s":"WV","t":2002,"v":30960},{"s":"WV","t":2003,"v":31000},{"s":"WV","t":2004,"v":30600},{"s":"WV","t":2005,"v":30660},{"s":"WV","t":2006,"v":30900},{"s":"WV","t":2007,"v":31270},{"s":"WV","t":2008,"v":30830},{"s":"WV","t":2009,"v":30910},{"s":"WV","t":2010,"v":30770},{"s":"WV","t":2011,"v":31520},{"s":"WV","t":2012,"v":31430},{"s":"WV","t":2013,"v":31260},{"s":"WV","t":2014,"v":31580},{"s":"WV","t":2015,"v":31900},{"s":"WV","t":2016,"v":32810},{"s":"WV","t":2017,"v":33160},{"s":"WV","t":2018,"v":33150},{"s":"WV","t":2019,"v":33050},{"s":"WV","t":2020,"v":36060},{"s":"WV","t":2021,"v":38220},
{"s":"WY","t":1990,"v":28970},{"s":"WY","t":1991,"v":28800},{"s":"WY","t":1992,"v":28400},{"s":"WY","t":1993,"v":28600},{"s":"WY","t":1994,"v":28700},{"s":"WY","t":1995,"v":28500},{"s":"WY","t":1996,"v":28300},{"s":"WY","t":1997,"v":28100},{"s":"WY","t":1998,"v":27900},{"s":"WY","t":1999,"v":27800},{"s":"WY","t":2000,"v":27850},{"s":"WY","t":2001,"v":27700},{"s":"WY","t":2002,"v":27600},{"s":"WY","t":2003,"v":27400},{"s":"WY","t":2004,"v":27200},{"s":"WY","t":2005,"v":27000},{"s":"WY","t":2006,"v":26800},{"s":"WY","t":2007,"v":26600},{"s":"WY","t":2008,"v":26500},{"s":"WY","t":2009,"v":26400},{"s":"WY","t":2010,"v":26470},{"s":"WY","t":2011,"v":26500},{"s":"WY","t":2012,"v":26400},{"s":"WY","t":2013,"v":26500},{"s":"WY","t":2014,"v":26600},{"s":"WY","t":2015,"v":26800},{"s":"WY","t":2016,"v":27000},{"s":"WY","t":2017,"v":27100},{"s":"WY","t":2018,"v":27200},{"s":"WY","t":2019,"v":27390},{"s":"WY","t":2020,"v":29200},{"s":"WY","t":2021,"v":30260}
]},
"encoding": {
  "x": {"field": "t", "type": "quantitative",
    "scale": {"domain": [1989.02, 2022.54], "nice": false, "zero": false},
    "axis": {"title": "Year", "values": [1990,1995,2000,2005,2010,2015,2020], "format": "d",
      "labelExpr": "datum.value % 10 == 0 ? datum.label : ''",
      "labelFont": "Liberation Sans", "labelFontSize": 23, "labelColor": "#4D4D4D", "labelPadding": 13,
      "titleFont": "Liberation Sans", "titleFontSize": 27, "titleFontWeight": "normal", "titleColor": "black",
      "titleX": 690, "titleY": 62, "titleBaseline": "alphabetic",
      "gridWidth": {"condition": {"test": "datum.value % 10 == 0", "value": 2}, "value": 1}}},
  "y": {"field": "v", "type": "quantitative",
    "scale": {"domain": [20765, 48678], "nice": false, "zero": false},
    "axis": {"title": "Age-standardised DALY rate (per 100 000)", "values": [25000,30000,35000,40000,45000],
      "labelExpr": "replace(format(datum.value, ','), ',', ' ')",
      "labelFont": "Liberation Serif", "labelFontSize": 23, "labelColor": "#4D4D4D", "labelPadding": 3, "labelOffset": -4,
      "titleFont": "Liberation Serif", "titleFontSize": 29, "titleFontWeight": "normal", "titleColor": "black",
      "titleX": -90, "titleY": 477, "titleBaseline": "alphabetic", "gridWidth": 2}}
},
"layer": [
  {"mark": {"type": "line", "strokeWidth": 2.5},
   "encoding": {"color": {"field": "s", "type": "nominal",
     "scale": {"domain": ["AK","AL","AR","AZ","CA","CO","CT","DC","DE","FL","GA","HI","IA","ID","IL","IN","KS","KY","LA","MA","MD","ME","MI","MN","MO","MS","MT","NC","ND","NE","NH","NJ","NM","NV","NY","OH","OK","OR","PA","RI","SC","SD","TN","TX","UT","VA","VT","WA","WI","WV","WY"],
       "range": ["#F8766D","#F47B5B","#ED8141","#E68613","#E08B00","#D98F00","#D09400","#C79900","#BB9D00","#B2A100","#A5A400","#97A900","#87AC00","#77AF00","#62B200","#44B500","#00B81F","#00BA38","#00BC51","#00BD64","#00BF76","#00C087","#00C096","#00C1A4","#00C1B2","#00C0BE","#00BEC9","#00BCD4","#00BAE0","#00B7E9","#00B3F2","#00AEF9","#00A8FF","#2EA3FF","#619CFF","#8294FF","#9C8DFF","#B186FF","#C37EFF","#D277FD","#DF70F8","#E86AF1","#F166E8","#F863DE","#FC61D4","#FF61C7","#FF62BB","#FF66A8","#FD6D8C","#FB727B","#F97474"]},
     "legend": {"title": "State", "orient": "none", "legendX": 1448, "legendY": 91, "columns": 3, "symbolLimit": 0,
       "symbolType": "stroke", "symbolSize": 1369, "symbolStrokeWidth": 2.5, "symbolOffset": 4,
       "labelFont": "Liberation Sans", "labelFontSize": 23, "labelColor": "black", "labelOffset": 16,
       "columnPadding": 16, "rowPadding": 14, "padding": 0,
       "titleFont": "Liberation Sans", "titleFontSize": 29, "titleFontWeight": "normal", "titleColor": "black", "titlePadding": 16}}}},
  {"transform": [{"filter": "datum.s == 'DC' && datum.t == 1990"}],
   "mark": {"type": "text", "dx": 9, "dy": -14, "font": "Liberation Sans", "fontSize": 28.5, "align": "center", "baseline": "middle", "color": "#C79900"},
   "encoding": {"text": {"field": "s"}}},
  {"transform": [{"filter": "datum.s == 'WV' && datum.t == 2021"}],
   "mark": {"type": "text", "dx": -9, "dy": -14, "font": "Liberation Sans", "fontSize": 28.5, "align": "center", "baseline": "middle", "color": "#FB727B"},
   "encoding": {"text": {"field": "s"}}},
  {"transform": [{"filter": "datum.s == 'HI' && datum.t == 1990"}],
   "mark": {"type": "text", "dx": 9, "dy": 17, "font": "Liberation Sans", "fontSize": 28.5, "align": "center", "baseline": "middle", "color": "#97A900"},
   "encoding": {"text": {"field": "s"}}},
  {"transform": [{"filter": "datum.s == 'HI' && datum.t == 2021"}],
   "mark": {"type": "text", "dx": -9, "dy": 17, "font": "Liberation Sans", "fontSize": 28.5, "align": "center", "baseline": "middle", "color": "#97A900"},
   "encoding": {"text": {"field": "s"}}},
  {"transform": [{"filter": "datum.s == 'AK' && datum.t == 1990"}],
   "mark": {"type": "text", "text": "10", "font": "Liberation Serif", "fontSize": 21, "fontWeight": "normal", "align": "center", "baseline": "middle", "color": "black"},
   "encoding": {"x": {"datum": 2027.2}, "y": {"datum": 20710}}}
]
}
